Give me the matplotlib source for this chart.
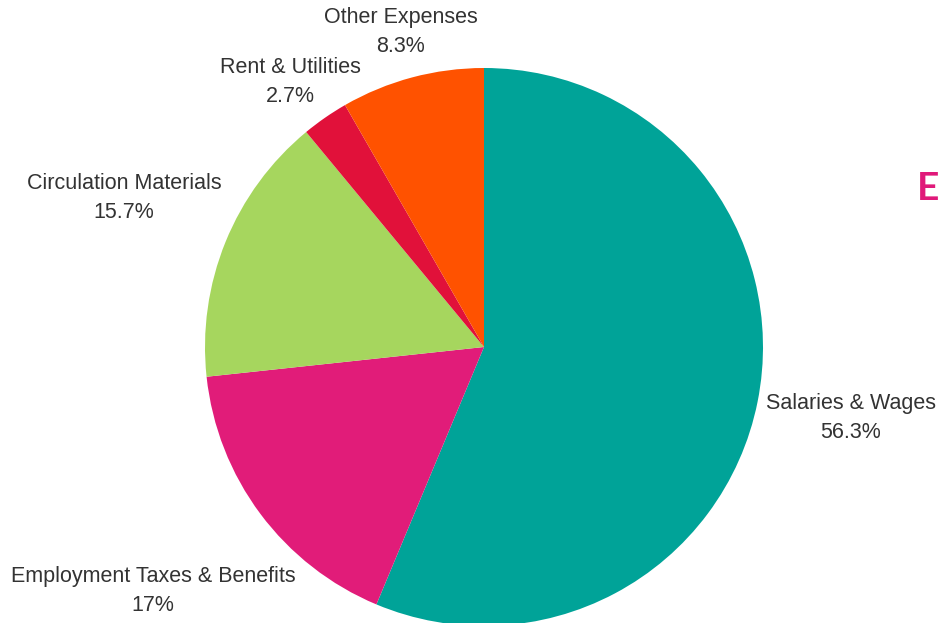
import matplotlib.pyplot as plt

plt.rcParams['font.family'] = ['Liberation Sans', 'DejaVu Sans']

# slices, clockwise from 12 o'clock
categories = ['Salaries & Wages', 'Employment Taxes & Benefits',
              'Circulation Materials', 'Rent & Utilities', 'Other Expenses']
values = [56.3, 17, 15.7, 2.7, 8.3]
pct_labels = ['56.3%', '17%', '15.7%', '2.7%', '8.3%']
colors = ['#00a398', '#e11c79', '#a6d65e', '#e1113a', '#ff5200']

# label anchor points in pixel space (x from left, y from top)
label_pos = [(851, 418), (153, 591), (124, 198), (290, 82), (401, 32)]

W, H = 941, 623
fig = plt.figure(figsize=(W / 100, H / 100), dpi=100)
ax = fig.add_axes([0, 0, 1, 1])

ax.pie(values, colors=colors, startangle=90, counterclock=False,
       center=(484, H - 347), radius=279,
       wedgeprops={'linewidth': 0})

for cat, pct, (x, y) in zip(categories, pct_labels, label_pos):
    ax.text(x, H - y, cat + '\n' + pct, ha='center', va='center',
            fontsize=15.5, color='#333333', linespacing=1.45)

# stray letter on the right edge
ax.text(917, H - 189, 'E', ha='left', va='center', fontsize=28,
        fontweight='bold', color='#e0197a', family=['Lato', 'DejaVu Sans'])

ax.set_xlim(0, W)
ax.set_ylim(0, H)
ax.set_aspect('equal')
ax.axis('off')

fig.savefig('out.png', dpi=100)
